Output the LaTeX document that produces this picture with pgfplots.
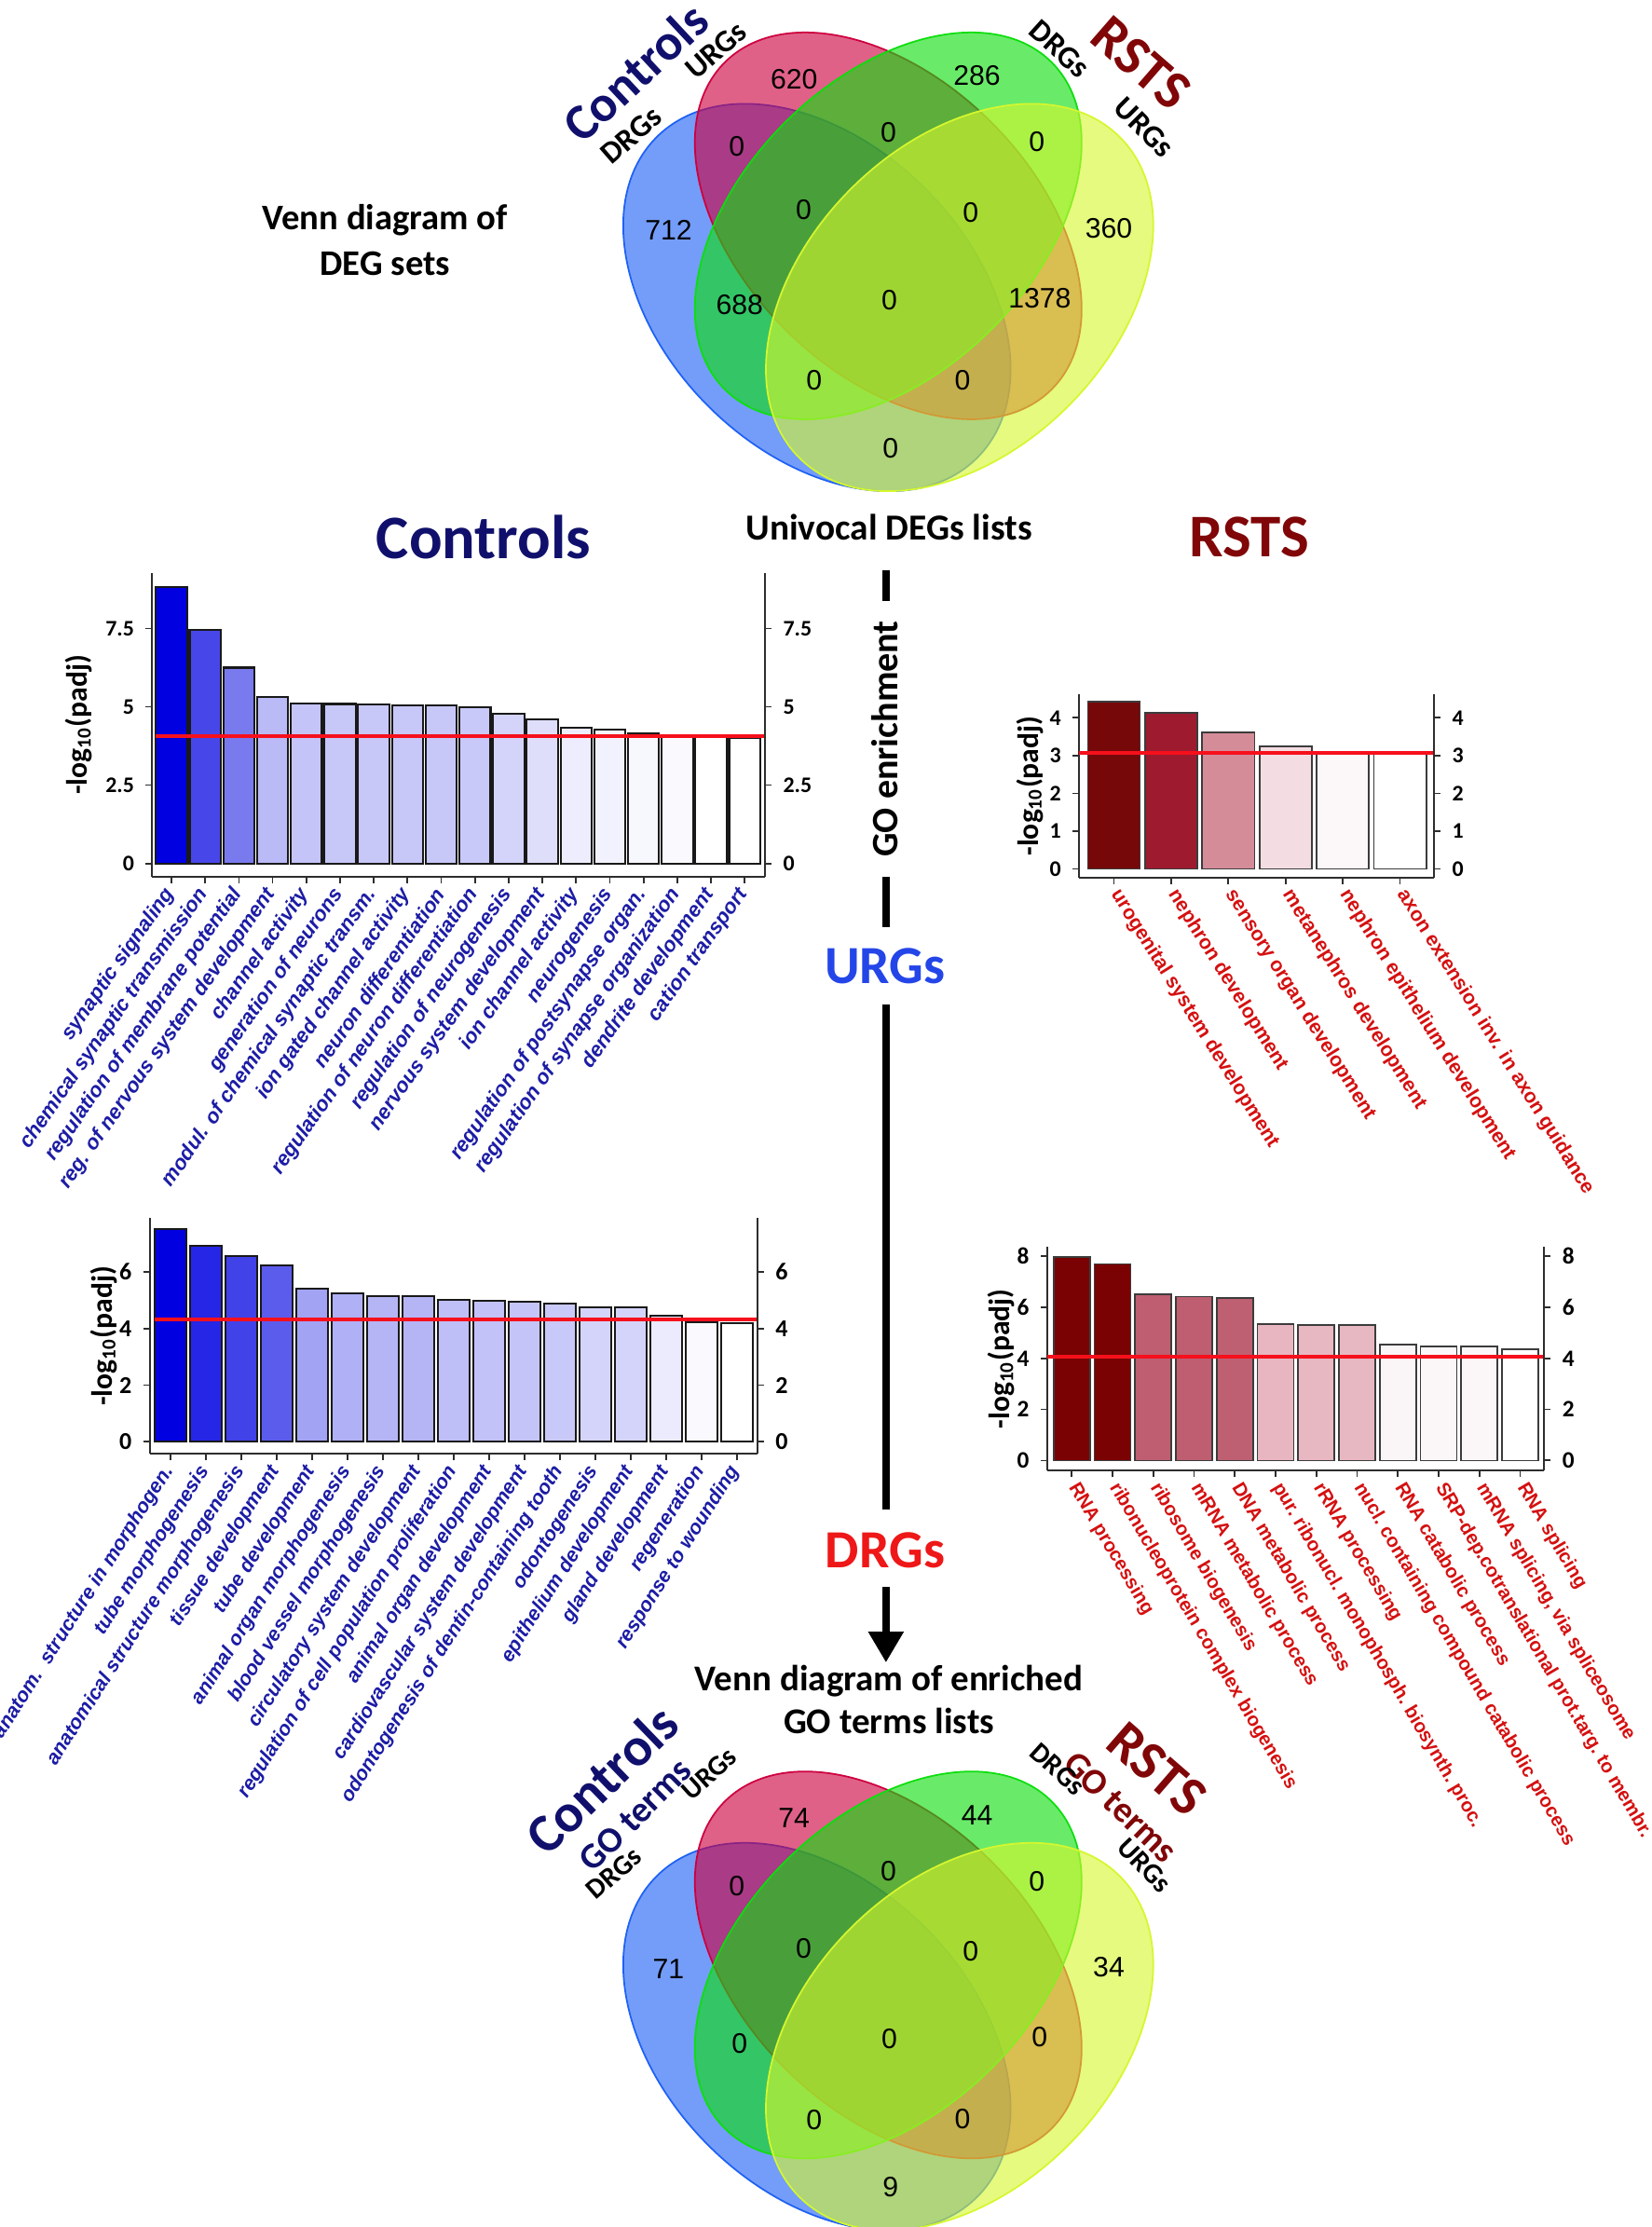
\documentclass[border=0pt]{standalone}
\usepackage{fontspec}
\setmainfont{Carlito}
\newfontfamily\arialf{Liberation Sans}
\usepackage{pgfplots}
\pgfplotsset{compat=1.18}
\usetikzlibrary{arrows.meta}

\definecolor{navyc}{RGB}{16,16,108}
\definecolor{maroonc}{RGB}{128,6,8}
\definecolor{lblue}{RGB}{28,28,165}
\definecolor{lred}{RGB}{212,16,16}
\definecolor{barblue}{RGB}{0,0,225}
\definecolor{urgblue}{RGB}{36,70,232}
\definecolor{drgred}{RGB}{238,24,24}
\definecolor{vblue}{RGB}{30,97,245}
\definecolor{vred}{RGB}{205,0,63}
\definecolor{vgreen}{RGB}{13,222,13}
\definecolor{vyellow}{RGB}{213,247,47}
\definecolor{thr}{RGB}{246,16,28}
\definecolor{axgray}{RGB}{45,45,45}
\definecolor{bdk}{RGB}{25,25,25}
\definecolor{bdg}{RGB}{60,60,60}

\tikzset{vset/.style={line width=0.5pt, fill opacity=0.62}}

\pgfplotsset{
  gobase/.style={
    scale only axis, anchor=south west,
    axis x line*=bottom, axis y line*=left,
    axis line style={-, axgray, line width=0.6pt},
    tick style={axgray, line width=0.5pt},
    tick align=outside, major tick length=0.7mm,
    yticklabel style={font=\bfseries\fontsize{6.8}{7}\selectfont},
    ylabel style={font=\bfseries\fontsize{9}{10}\selectfont},
    ylabel={-log\textsubscript{10}(padj)},
  },
  goright/.style={
    scale only axis, anchor=south west,
    axis x line=none, axis y line*=right,
    axis line style={-, axgray, line width=0.6pt},
    tick style={axgray, line width=0.5pt},
    tick align=outside, major tick length=0.7mm,
    yticklabel style={font=\bfseries\fontsize{6.8}{7}\selectfont},
  },
  bluelab/.style={anchor=east, font=\arialf\bfseries\itshape\fontsize{6.3}{7}\selectfont, text=lblue, inner sep=0.5pt, yshift=-0.6mm},
  redlab/.style={anchor=west, font=\arialf\bfseries\fontsize{6.1}{7}\selectfont, text=lred, inner sep=0.5pt, yshift=-0.6mm},
  thrline/.style={draw=thr, line width=1.3pt},
  bA/.style={ybar, bar shift=0pt, bar width=0.925, draw=bdk, line width=0.6pt},
  bB/.style={ybar, bar shift=0pt, bar width=0.915, draw=bdg, line width=0.5pt},
  bC/.style={ybar, bar shift=0pt, bar width=0.90, draw=bdk, line width=0.6pt},
  bD/.style={ybar, bar shift=0pt, bar width=0.89, draw=bdg, line width=0.5pt},
}

\begin{document}
\begin{tikzpicture}
\useasboundingbox (0,0) rectangle (177.2mm,-239mm);

% ---------- canvas axis in reference pixel units (Venn diagrams, titles) ----------
\begin{axis}[hide axis, scale only axis, width=177.2mm, height=239mm,
  xmin=0, xmax=1164, ymin=0, ymax=1570, y dir=reverse,
  at={(0,0)}, anchor=north west, clip=false]

\pgfplotsinvokeforeach{0,1226}{
  \draw[vset, draw=vblue, fill=vblue] (axis cs:575.9,209.7+#1) ellipse [x radius=24.33mm, y radius=16.49mm, rotate=-45];
  \draw[vset, draw=vred, fill=vred] (axis cs:626.2,159.2+#1) ellipse [x radius=24.81mm, y radius=15.68mm, rotate=-45];
  \draw[vset, draw=vgreen, fill=vgreen] (axis cs:626.2,159.2+#1) ellipse [x radius=24.81mm, y radius=15.68mm, rotate=45];
  \draw[vset, draw=vyellow, fill=vyellow] (axis cs:676.5,209.7+#1) ellipse [x radius=24.33mm, y radius=16.49mm, rotate=45];
}

% Venn counts (DEG sets, top; enriched GO terms, bottom)
\addplot[draw=none, nodes near coords, point meta=explicit symbolic,
  every node near coord/.append style={anchor=center, font=\arialf\fontsize{8.6}{9}\selectfont, text=black}]
  coordinates {
  (559.8,55.7) [620] (688.8,53.4) [286] (519.4,103.5) [0] (626.4,93.2) [0] (731,100) [0]
  (471.3,161.9) [712] (566.5,147.8) [0] (684.4,149.6) [0] (781.7,160.8) [360]
  (521.4,214.9) [688] (627,211.5) [0] (733,210.3) [1378]
  (573.9,268.3) [0] (678.5,267.8) [0] (627.9,316) [0]
  (559.8,1281.7) [74] (688.8,1279.4) [44] (519.4,1329.5) [0] (626.4,1319.2) [0] (731,1326) [0]
  (471.3,1387.9) [71] (566.5,1373.8) [0] (684.4,1375.6) [0] (781.7,1386.8) [34]
  (521.4,1440.9) [0] (627,1437.5) [0] (733,1436.3) [0]
  (573.9,1494.3) [0] (678.5,1493.8) [0] (627.9,1542) [9]
  };

% top Venn labels
\node[rotate=43, text=navyc, font=\bfseries\fontsize{15.5}{17}\selectfont] at (axis cs:448,51) {Controls};
\node[rotate=41, font=\bfseries\fontsize{9.5}{11}\selectfont] at (axis cs:445,95.5) {DRGs};
\node[rotate=41, font=\bfseries\fontsize{9.5}{11}\selectfont] at (axis cs:504.6,35.5) {URGs};
\node[rotate=-42, font=\bfseries\fontsize{9.5}{11}\selectfont] at (axis cs:747,34.5) {DRGs};
\node[rotate=-41, text=maroonc, font=\bfseries\fontsize{17}{19}\selectfont] at (axis cs:804.5,44.5) {RSTS};
\node[rotate=-45, font=\bfseries\fontsize{9.5}{11}\selectfont] at (axis cs:806.7,89.8) {URGs};
\node[align=center, font=\bfseries\fontsize{11}{13.9}\selectfont] at (axis cs:271.5,169) {Venn diagram of\\DEG sets};

% middle column
\node[text=navyc, font=\bfseries\fontsize{18.9}{21}\selectfont] at (axis cs:341,378.6) {Controls};
\node[font=\bfseries\fontsize{11.2}{13}\selectfont] at (axis cs:626.7,372) {Univocal DEGs lists};
\node[text=maroonc, font=\bfseries\fontsize{18.5}{21}\selectfont] at (axis cs:881,378.6) {RSTS};
\draw[line width=2.3pt] (axis cs:624.6,401.8) -- (axis cs:624.6,423.7);
\node[rotate=90, font=\bfseries\fontsize{11.4}{13}\selectfont] at (axis cs:623.6,520.8) {GO enrichment};
\draw[line width=2.3pt] (axis cs:624.6,618) -- (axis cs:624.6,653.6);
\node[text=urgblue, font=\bfseries\fontsize{16.4}{18}\selectfont] at (axis cs:624,681) {URGs};
\draw[line width=2.3pt] (axis cs:624.6,708) -- (axis cs:624.6,1064);
\node[text=drgred, font=\bfseries\fontsize{16.4}{18}\selectfont] at (axis cs:624,1093) {DRGs};
\draw[line width=2.3pt, -{Triangle[length=3.3mm, width=3.6mm]}] (axis cs:624.6,1119) -- (axis cs:624.6,1172);
\node[align=center, font=\bfseries\fontsize{11.1}{13.2}\selectfont] at (axis cs:626.7,1198) {Venn diagram of enriched\\GO terms lists};

% bottom Venn labels
\node[rotate=44, text=navyc, font=\bfseries\fontsize{16.5}{18}\selectfont] at (axis cs:424.4,1254.3) {Controls};
\node[rotate=45, text=navyc, font=\bfseries\fontsize{11}{12}\selectfont] at (axis cs:448,1279.5) {GO terms};
\node[rotate=42, font=\bfseries\fontsize{8.6}{10}\selectfont] at (axis cs:500,1250.5) {URGs};
\node[rotate=41, font=\bfseries\fontsize{8.6}{10}\selectfont] at (axis cs:432.8,1320.6) {DRGs};
\node[rotate=-41, text=maroonc, font=\bfseries\fontsize{17}{19}\selectfont] at (axis cs:816,1247) {RSTS};
\node[rotate=-44, text=maroonc, font=\bfseries\fontsize{11}{12}\selectfont] at (axis cs:790,1273.8) {GO terms};
\node[rotate=-42, font=\bfseries\fontsize{8.6}{10}\selectfont] at (axis cs:745.5,1247) {DRGs};
\node[rotate=-46, font=\bfseries\fontsize{8.6}{10}\selectfont] at (axis cs:807,1315) {URGs};

% anchors for the four bar charts (lower left corner of each plot area)
\coordinate (pA) at (axis cs:107.3,618);
\coordinate (pB) at (axis cs:760.8,618.7);
\coordinate (pC) at (axis cs:105.6,1024.8);
\coordinate (pD) at (axis cs:738.3,1036.8);
\end{axis}

% ---------- Controls, URGs ----------
\begin{axis}[gobase, at={(pA)}, width=65.78mm, height=32.58mm,
  xmin=0.428, xmax=18.606, ymin=-0.42, ymax=9.27,
  ytick={0,2.5,5,7.5}, yticklabels={0,2.5,5,7.5},
  xtick={1,...,18},
  xticklabels={synaptic signaling, chemical synaptic transmission, regulation of membrane potential,
    reg. of nervous system development, channel activity, generation of neurons,
    modul. of chemical synaptic transm., ion gated channel activity, neuron differentiation,
    regulation of neuron differentiation, regulation of neurogenesis, nervous system development,
    ion channel activity, neurogenesis, regulation of postsynapse organ.,
    regulation of synapse organization, dendrite development, cation transport},
  xticklabel style={bluelab, rotate=55},
  ylabel style={at={(axis description cs:-0.1195,0.5)}, anchor=center}]
\addplot[bA, fill=barblue] coordinates {(1,8.83)};
\addplot[bA, fill=barblue!72!white] coordinates {(2,7.46)};
\addplot[bA, fill=barblue!52!white] coordinates {(3,6.25)};
\addplot[bA, fill=barblue!27!white] coordinates {(4,5.31)};
\addplot[bA, fill=barblue!23!white] coordinates {(5,5.11)};
\addplot[bA, fill=barblue!22!white] coordinates {(6,5.09)};
\addplot[bA, fill=barblue!22!white] coordinates {(7,5.07)};
\addplot[bA, fill=barblue!22!white] coordinates {(8,5.05)};
\addplot[bA, fill=barblue!22!white] coordinates {(9,5.05)};
\addplot[bA, fill=barblue!21!white] coordinates {(10,4.99)};
\addplot[bA, fill=barblue!17!white] coordinates {(11,4.78)};
\addplot[bA, fill=barblue!13!white] coordinates {(12,4.59)};
\addplot[bA, fill=barblue!7!white] coordinates {(13,4.32)};
\addplot[bA, fill=barblue!5!white] coordinates {(14,4.26)};
\addplot[bA, fill=barblue!3!white] coordinates {(15,4.14)};
\addplot[bA, fill=barblue!2!white] coordinates {(16,4.08)};
\addplot[bA, fill=white] coordinates {(17,4.06)};
\addplot[bA, fill=white] coordinates {(18,4.01)};
\addplot[thrline] coordinates {(0.54,4.06) (18.606,4.06)};
\end{axis}
\begin{axis}[goright, at={(pA)}, width=65.78mm, height=32.58mm,
  xmin=0.428, xmax=18.606, ymin=-0.42, ymax=9.27,
  ytick={0,2.5,5,7.5}, yticklabels={0,2.5,5,7.5}]
\addplot[draw=none] coordinates {(1,0)};
\end{axis}

% ---------- RSTS, URGs ----------
\begin{axis}[gobase, at={(pB)}, width=38.09mm, height=19.67mm,
  xmin=0.393, xmax=6.595, ymin=-0.23, ymax=4.62,
  ytick={0,1,2,3,4}, yticklabels={0,1,2,3,4},
  xtick={1,...,6},
  xticklabels={urogenital system development, nephron development, sensory organ development,
    metanephros development, nephron epithelium development, axon extension inv. in axon guidance},
  xticklabel style={redlab, rotate=-58},
  ylabel style={at={(axis description cs:-0.139,0.5)}, anchor=center}]
\addplot[bB, fill={rgb,255:red,118;green,8;blue,10}] coordinates {(1,4.42)};
\addplot[bB, fill={rgb,255:red,158;green,26;blue,46}] coordinates {(2,4.13)};
\addplot[bB, fill={rgb,255:red,212;green,140;blue,152}] coordinates {(3,3.62)};
\addplot[bB, fill={rgb,255:red,243;green,221;blue,226}] coordinates {(4,3.24)};
\addplot[bB, fill={rgb,255:red,252;green,248;blue,249}] coordinates {(5,3.06)};
\addplot[bB, fill=white] coordinates {(6,3.04)};
\addplot[thrline] coordinates {(0.393,3.07) (6.595,3.07)};
\end{axis}
\begin{axis}[goright, at={(pB)}, width=38.09mm, height=19.67mm,
  xmin=0.393, xmax=6.595, ymin=-0.23, ymax=4.62,
  ytick={0,1,2,3,4}, yticklabels={0,1,2,3,4}]
\addplot[draw=none] coordinates {(1,0)};
\end{axis}

% ---------- Controls, DRGs ----------
\begin{axis}[gobase, at={(pC)}, width=65.23mm, height=25.27mm,
  xmin=0.407, xmax=17.59, ymin=-0.42, ymax=7.9,
  ytick={0,2,4,6}, yticklabels={0,2,4,6},
  yticklabel style={font=\bfseries\fontsize{7.4}{8}\selectfont},
  xtick={1,...,17},
  xticklabels={anatom.\ \ structure in morphogen., tube morphogenesis, anatomical structure morphogenesis,
    tissue development, tube development, animal organ morphogenesis, blood vessel morphogenesis,
    circulatory system development, regulation of cell population proliferation, animal organ development,
    cardiovascular system development, odontogenesis of dentin-containing tooth, odontogenesis,
    epithelium development, gland development, regeneration, response to wounding},
  xticklabel style={bluelab, rotate=57.5, font=\arialf\bfseries\itshape\fontsize{6.1}{7}\selectfont},
  ylabel style={at={(axis description cs:-0.076,0.5)}, anchor=center}]
\addplot[bC, fill=barblue] coordinates {(1,7.51)};
\addplot[bC, fill=barblue!85!white] coordinates {(2,6.93)};
\addplot[bC, fill=barblue!74!white] coordinates {(3,6.55)};
\addplot[bC, fill=barblue!64!white] coordinates {(4,6.24)};
\addplot[bC, fill=barblue!36!white] coordinates {(5,5.42)};
\addplot[bC, fill=barblue!31!white] coordinates {(6,5.26)};
\addplot[bC, fill=barblue!29!white] coordinates {(7,5.14)};
\addplot[bC, fill=barblue!29!white] coordinates {(8,5.14)};
\addplot[bC, fill=barblue!25!white] coordinates {(9,5.02)};
\addplot[bC, fill=barblue!24!white] coordinates {(10,4.98)};
\addplot[bC, fill=barblue!23!white] coordinates {(11,4.96)};
\addplot[bC, fill=barblue!21!white] coordinates {(12,4.87)};
\addplot[bC, fill=barblue!17!white] coordinates {(13,4.74)};
\addplot[bC, fill=barblue!17!white] coordinates {(14,4.74)};
\addplot[bC, fill=barblue!8!white] coordinates {(15,4.46)};
\addplot[bC, fill=barblue!2!white] coordinates {(16,4.24)};
\addplot[bC, fill=white] coordinates {(17,4.19)};
\addplot[thrline] coordinates {(0.55,4.33) (17.59,4.33)};
\end{axis}
\begin{axis}[goright, at={(pC)}, width=65.23mm, height=25.27mm,
  xmin=0.407, xmax=17.59, ymin=-0.42, ymax=7.9,
  ytick={0,2,4,6}, yticklabels={0,2,4,6},
  yticklabel style={font=\bfseries\fontsize{7.4}{8}\selectfont}]
\addplot[draw=none] coordinates {(1,0)};
\end{axis}

% ---------- RSTS, DRGs ----------
\begin{axis}[gobase, at={(pD)}, width=53.34mm, height=23.99mm,
  xmin=0.398, xmax=12.59, ymin=-0.4, ymax=8.36,
  ytick={0,2,4,6,8}, yticklabels={0,2,4,6,8},
  yticklabel style={font=\bfseries\fontsize{7.2}{8}\selectfont},
  xtick={1,...,12},
  xticklabels={RNA processing, ribonucleoprotein complex biogenesis, ribosome biogenesis,
    mRNA metabolic process, DNA metabolic process, pur.\ ribonucl.\ monophosph.\ biosynth.\ proc.,
    rRNA processing, nucl.\ containing compound catabolic process, RNA catabolic process,
    SRP-dep.cotranslational prot.targ.\ to membr., {mRNA splicing, via spliceosome}, RNA splicing},
  xticklabel style={redlab, rotate=-59.5, font=\arialf\bfseries\fontsize{5.85}{7}\selectfont},
  ylabel style={at={(axis description cs:-0.092,0.5)}, anchor=center}]
\addplot[bD, fill={rgb,255:red,122;green,2;blue,2}] coordinates {(1,7.98)};
\addplot[bD, fill={rgb,255:red,122;green,2;blue,2}] coordinates {(2,7.70)};
\addplot[bD, fill={rgb,255:red,190;green,94;blue,112}] coordinates {(3,6.50)};
\addplot[bD, fill={rgb,255:red,190;green,94;blue,112}] coordinates {(4,6.42)};
\addplot[bD, fill={rgb,255:red,190;green,96;blue,114}] coordinates {(5,6.38)};
\addplot[bD, fill={rgb,255:red,232;green,182;blue,192}] coordinates {(6,5.35)};
\addplot[bD, fill={rgb,255:red,232;green,184;blue,194}] coordinates {(7,5.30)};
\addplot[bD, fill={rgb,255:red,232;green,184;blue,194}] coordinates {(8,5.30)};
\addplot[bD, fill={rgb,255:red,250;green,245;blue,246}] coordinates {(9,4.53)};
\addplot[bD, fill={rgb,255:red,251;green,247;blue,248}] coordinates {(10,4.46)};
\addplot[bD, fill={rgb,255:red,251;green,247;blue,248}] coordinates {(11,4.46)};
\addplot[bD, fill=white] coordinates {(12,4.37)};
\addplot[thrline] coordinates {(0.398,4.07) (12.59,4.07)};
\end{axis}
\begin{axis}[goright, at={(pD)}, width=53.34mm, height=23.99mm,
  xmin=0.398, xmax=12.59, ymin=-0.4, ymax=8.36,
  ytick={0,2,4,6,8}, yticklabels={0,2,4,6,8},
  yticklabel style={font=\bfseries\fontsize{7.2}{8}\selectfont}]
\addplot[draw=none] coordinates {(1,0)};
\end{axis}
\end{tikzpicture}
\end{document}
